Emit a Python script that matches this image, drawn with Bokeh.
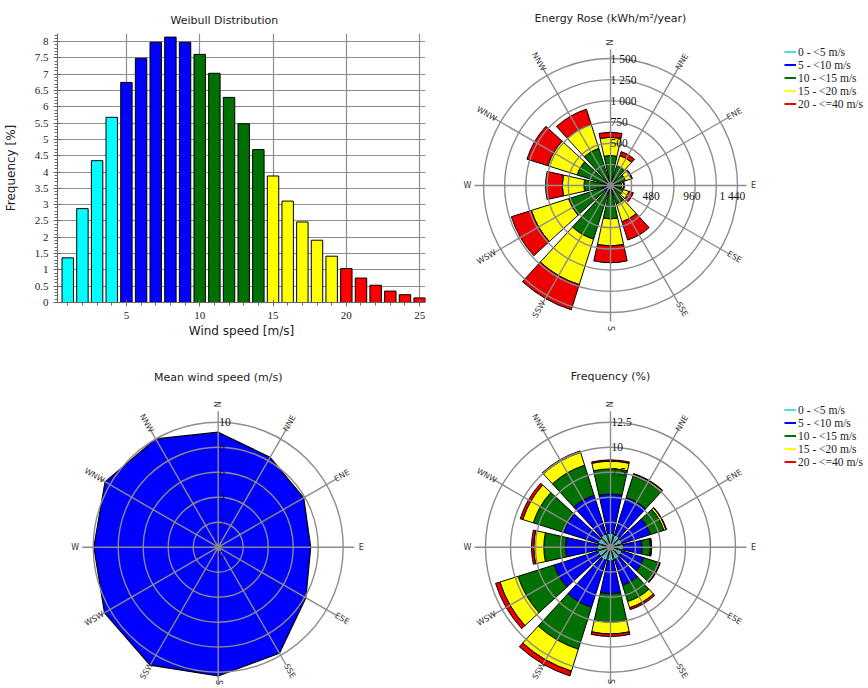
import math
from bokeh.plotting import figure
from bokeh.layouts import row, column
from bokeh.models import Range1d, FixedTicker, NumeralTickFormatter, Legend, LegendItem
from bokeh.embed import file_html
from bokeh.resources import INLINE
from bokeh.core.properties import value

# ---------------- data ----------------
speed_bins = list(range(1, 26))
weibull_freq = [1.37, 2.88, 4.35, 5.68, 6.75, 7.49, 7.98, 8.14, 7.98, 7.61, 7.03, 6.29, 5.48, 4.69,
                3.88, 3.11, 2.47, 1.91, 1.42, 1.04, 0.75, 0.53, 0.35, 0.24, 0.14]

class_bounds = [0, 5, 10, 15, 20, 40]
class_labels = ["0 - <5 m/s", "5 - <10 m/s", "10 - <15 m/s", "15 - <20 m/s", "20 - <=40 m/s"]

sectors = ["N", "NNE", "ENE", "E", "ESE", "SSE", "S", "SSW", "WSW", "W", "WNW", "NNW"]
bearings = [0, 30, 60, 90, 120, 150, 180, 210, 240, 270, 300, 330]

# Energy rose (kWh/m2/year) per speed class
energy_0_5 = [3, 2, 2, 2, 2, 3, 3, 4, 4, 3, 3, 3]
energy_5_10 = [57, 38, 33, 28, 33, 47, 57, 91, 86, 52, 52, 57]
energy_10_15 = [294, 205, 150, 100, 123, 180, 335, 571, 430, 260, 360, 400]
energy_15_20 = [216, 125, 75, 27, 71, 220, 320, 562, 460, 255, 361, 297]
energy_20_40 = [60, 50, 12, 8, 54, 225, 197, 312, 248, 197, 259, 188]

# Frequency rose (%) per speed class
freq_0_5 = [1.4, 1.3, 1.2, 1.3, 1.2, 1.3, 1.4, 1.4, 1.35, 1.3, 1.3, 1.4]
freq_5_10 = [3.93, 3.9, 3.0, 1.87, 2.3, 2.7, 3.27, 4.9, 4.55, 3.2, 3.6, 4.05]
freq_10_15 = [2.5, 2.25, 1.4, 0.83, 1.5, 1.7, 2.83, 4.4, 3.8, 2.17, 3.2, 3.15]
freq_15_20 = [0.77, 0.2, 0.22, 0.1, 0.15, 0.65, 1.17, 2.3, 1.9, 1.0, 1.1, 1.35]
freq_20_40 = [0.13, 0.07, 0.06, 0.03, 0.07, 0.2, 0.26, 0.5, 0.45, 0.23, 0.27, 0.15]

# Mean wind speed per sector (m/s)
mean_speed = [9.2, 8.3, 7.9, 7.4, 8.1, 9.8, 10.3, 10.9, 10.5, 9.95, 10.45, 10.0]

energy_rings = [250, 500, 750, 1000, 1250, 1500]
energy_ring_ticks = [500, 750, 1000, 1250, 1500]
energy_e_ticks = [480, 960, 1440]
freq_rings = [2.5, 5, 7.5, 10, 12.5]
freq_ring_ticks = [7.5, 10, 12.5]
speed_rings = [2, 4, 6, 8, 10]

hist_colors_cls = ["#00ffff", "#0000ff", "#007000", "#ffff00", "#ff0000"]
rose_colors = ["#48e0e0", "#0000ff", "#007000", "#ffff00", "#ee0000"]
GRID = "#8c8c8c"
SERIF = "Liberation Serif"
SANS = "DejaVu Sans"


def fmt_space(v):
    return f"{v:,}".replace(",", " ")


def speed_class(s):
    for i in range(len(class_bounds) - 1):
        if class_bounds[i] <= s < class_bounds[i + 1]:
            return i
    return len(class_bounds) - 2


# ---------------- histogram ----------------
p1 = figure(width=432, height=358, x_range=Range1d(0.3, 25.4), y_range=Range1d(0, 8.25),
            output_backend="svg", toolbar_location=None,
            min_border_left=52, min_border_right=7, min_border_top=33, min_border_bottom=56,
            title="Weibull Distribution")
p1.frame_align = False
p1.title.text_font = SANS
p1.title.text_font_size = "11px"
p1.title.text_font_style = "normal"
p1.title.text_color = "#222"
p1.title.align = "left"
p1.title.offset = 113
p1.title.standoff = 13
p1.outline_line_color = None

hist_colors = [hist_colors_cls[speed_class(s)] for s in speed_bins]
p1.vbar(x=speed_bins, top=weibull_freq, width=0.78, fill_color=hist_colors,
        line_color="black", line_width=1)

yticks = [i * 0.5 for i in range(17)]
yminor = [round(i * 0.1, 1) for i in range(83)]
p1.yaxis.ticker = FixedTicker(ticks=yticks, minor_ticks=yminor)
p1.xaxis.ticker = FixedTicker(ticks=[5, 10, 15, 20, 25], minor_ticks=speed_bins)
p1.yaxis.formatter = NumeralTickFormatter(format="0.[0]")
p1.xaxis.axis_label = "Wind speed [m/s]"
p1.yaxis.axis_label = "Frequency [%]"
for ax in (p1.xaxis, p1.yaxis):
    ax.axis_label_text_font = SANS
    ax.axis_label_text_font_size = "12px"
    ax.axis_label_text_font_style = "normal"
    ax.axis_label_text_color = "#222"
    ax.major_label_text_font = SERIF
    ax.major_label_text_font_size = "11px"
    ax.major_label_text_color = "#222"
    ax.axis_line_color = "#666"
    ax.major_tick_line_color = "#666"
    ax.minor_tick_line_color = "#666"
    ax.major_tick_out = 4
    ax.major_tick_in = 3
    ax.minor_tick_out = 3
    ax.minor_tick_in = 0
p1.xaxis.axis_label_standoff = 2
p1.yaxis.axis_label_standoff = 14
p1.grid.grid_line_color = GRID
p1.grid.grid_line_width = 1.2


# ---------------- rose helpers ----------------
def rose_figure(width, height, cx, cy, scale):
    p = figure(width=width, height=height, title=None,
               x_range=Range1d(-cx / scale, (width - cx) / scale),
               y_range=Range1d(-(height - cy) / scale, cy / scale),
               output_backend="svg", toolbar_location=None,
               x_axis_type=None, y_axis_type=None, min_border=0,
               outline_line_color=None)
    p.frame_align = False
    return p


def draw_stacked(p, series, width_deg=25):
    cum = [0.0] * len(bearings)
    start = [math.radians(90 - b - width_deg / 2) for b in bearings]
    end = [math.radians(90 - b + width_deg / 2) for b in bearings]
    for vals, col in zip(series, rose_colors):
        outer = [c + v for c, v in zip(cum, vals)]
        p.annular_wedge(x=0, y=0, inner_radius=list(cum), outer_radius=outer,
                        start_angle=start, end_angle=end,
                        fill_color=col, line_color="black", line_width=1)
        cum = outer


def draw_grid(p, rings, scale, title, cy, height):
    spoke = 136 / scale
    lab_r = 143 / scale
    ymin = -(height - cy - 6) / scale
    p.circle(x=0, y=0, radius=rings, fill_color=None, line_color=GRID, line_width=1.4)
    th = [math.radians(90 - b) for b in bearings]
    p.segment(x0=0, y0=0, x1=[spoke * math.cos(t) for t in th],
              y1=[spoke * math.sin(t) for t in th], line_color=GRID, line_width=1.4)
    p.scatter(x=[0], y=[0], size=6, color="#888888")
    angs = [t if math.cos(t) > -1e-9 else t - math.pi for t in th]
    p.text(x=[lab_r * math.cos(t) for t in th],
           y=[max(lab_r * math.sin(t), ymin) for t in th],
           text=sectors, angle=angs, text_align="center", text_baseline="middle",
           text_font=value(SANS), text_font_size="8px", text_color="#333")
    p.text(x=[0], y=[(cy - 18) / scale], text=[title], text_align="center",
           text_baseline="middle", text_font=value(SANS), text_font_size="11px",
           text_color="#222")


def add_legend(p, x, y):
    items = []
    for lab, col in zip(class_labels, rose_colors):
        r = p.line(x=[0, 0], y=[0, 0], line_color=col, line_width=2)
        items.append(LegendItem(label=lab, renderers=[r]))
    leg = Legend(items=items, location=(x, y), orientation="vertical",
                 label_text_font=SERIF, label_text_font_size="11.5px",
                 label_text_color="#222",
                 glyph_width=12, glyph_height=13, label_height=13, label_standoff=2,
                 spacing=0, padding=0, margin=0, border_line_color=None,
                 background_fill_alpha=0)
    p.add_layout(leg)


# ---------------- energy rose ----------------
W_R, H_T, H_B = 435, 358, 329
s_e = 127 / 1500
cy_e = 185
p2 = rose_figure(W_R, H_T, 178, cy_e, s_e)
draw_stacked(p2, [energy_0_5, energy_5_10, energy_10_15, energy_15_20, energy_20_40])
draw_grid(p2, energy_rings, s_e, "Energy Rose (kWh/m\u00b2/year)", cy_e, H_T)
p2.text(x=0, y=energy_ring_ticks, text=[fmt_space(v) for v in energy_ring_ticks],
        x_offset=0, text_align="left", text_baseline="middle",
        text_font=value(SERIF), text_font_size="11.5px", text_color="#111")
p2.text(x=energy_e_ticks, y=0, text=[fmt_space(v) for v in energy_e_ticks],
        y_offset=10, text_align="center", text_baseline="middle",
        text_font=value(SERIF), text_font_size="11.5px", text_color="#111")
add_legend(p2, 352, H_T - 45 - 65)

# ---------------- mean wind speed rose ----------------
s_m = 12.5
cy_m = 188.7
p3 = rose_figure(432, H_B, 217.7, cy_m, s_m)
th_all = [math.radians(90 - b) for b in bearings]
p3.patch(x=[v * math.cos(t) for v, t in zip(mean_speed, th_all)],
         y=[v * math.sin(t) for v, t in zip(mean_speed, th_all)],
         fill_color="#0000ff", line_color="black", line_width=1.2)
draw_grid(p3, speed_rings, s_m, "Mean wind speed (m/s)", cy_m - 1, H_B)
p3.text(x=0, y=speed_rings[:-1], text=[str(v) for v in speed_rings[:-1]],
        x_offset=1, text_align="left", text_baseline="middle",
        text_font=value(SERIF), text_font_size="11.5px", text_color="#000070")
p3.text(x=0, y=speed_rings[-1:], text=[str(v) for v in speed_rings[-1:]],
        x_offset=1, text_align="left", text_baseline="middle",
        text_font=value(SERIF), text_font_size="11.5px", text_color="#111")
p3.text(x=[0], y=[0], text=["0"], x_offset=0, y_offset=4, text_align="left",
        text_baseline="top", text_font=value(SERIF), text_font_size="11.5px",
        text_color="#000070")

# ---------------- frequency rose ----------------
s_f = 10
cy_f = 188.7
p4 = rose_figure(W_R, H_B, 178, cy_f, s_f)
draw_stacked(p4, [freq_0_5, freq_5_10, freq_10_15, freq_15_20, freq_20_40])
draw_grid(p4, freq_rings, s_f, "Frequency (%)", cy_f, H_B)
p4.text(x=0, y=freq_ring_ticks, text=[f"{v:g}" for v in freq_ring_ticks],
        x_offset=1, text_align="left", text_baseline="middle",
        text_font=value(SERIF), text_font_size="11.5px", text_color="#111")
add_legend(p4, 352, H_B - 45 - 65)

layout = column(row(p1, p2), row(p3, p4))
open("out.html", "w").write(file_html(layout, INLINE))
